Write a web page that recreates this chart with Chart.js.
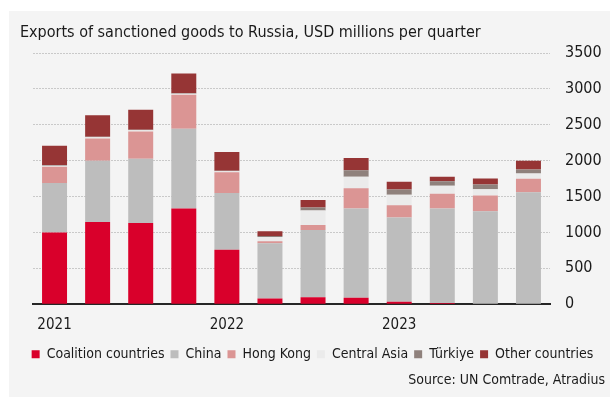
<!DOCTYPE html>
<html>
<head>
<meta charset="utf-8">
<script src="https://cdn.jsdelivr.net/npm/chart.js@4.4.1/dist/chart.umd.min.js"></script>
<style>
  body { margin: 0; background: #fff; }
  #panel { position: absolute; left: 9px; top: 11px; width: 601px; height: 386px; background: #f4f4f4; }
  #title { position: absolute; left: 11px; top: 11px; font: 16px "DejaVu Sans Condensed", sans-serif; color: #1a1a1a; white-space: nowrap; }
  #chart { position: absolute; left: 0; top: 0; }
</style>
</head>
<body>
<div id="panel">
  <canvas id="chart" width="601" height="386"></canvas>
  <div id="title">Exports of sanctioned goods to Russia, USD millions per quarter</div>
</div>
<script>
// quarterly exports, USD millions
const quarters = ['2021 Q1', '2021 Q2', '2021 Q3', '2021 Q4',
                  '2022 Q1', '2022 Q2', '2022 Q3', '2022 Q4',
                  '2023 Q1', '2023 Q2', '2023 Q3', '2023 Q4'];
const coalition   = [1000, 1145, 1130, 1335, 760, 78, 98, 90, 33, 15, 5, 0];
const china       = [690, 855, 897, 1110, 790, 772, 937, 1245, 1175, 1320, 1290, 1560];
const hongKong    = [225, 310, 380, 475, 290, 28, 70, 280, 172, 205, 220, 187];
const centralAsia = [15, 15, 15, 12, 12, 59, 199, 160, 145, 112, 88, 74];
const turkiye     = [8, 7, 7, 8, 8, 14, 42, 93, 74, 60, 65, 56];
const other       = [270, 300, 280, 275, 260, 66, 107, 170, 108, 65, 84, 121];
const yTicks      = [0, 500, 1000, 1500, 2000, 2500, 3000, 3500];

const FONT = '"DejaVu Sans Condensed", sans-serif';

function series(label, data, color) {
  return { label, data, backgroundColor: color, borderWidth: 0, yAxisID: 'y' };
}

new Chart(document.getElementById('chart'), {
  type: 'bar',
  data: {
    labels: quarters,
    datasets: [
      series('Coalition countries', coalition, '#d9002b'),
      series('China', china, '#bdbdbd'),
      series('Hong Kong', hongKong, '#db9594'),
      series('Central Asia', centralAsia, '#ebebeb'),
      series('Türkiye', turkiye, '#8f817c'),
      series('Other countries', other, '#963535')
    ]
  },
  options: {
    responsive: false,
    animation: false,
    categoryPercentage: 1,
    barPercentage: 0.58,
    layout: { padding: { left: 11, right: 5, top: 42, bottom: 8 } },
    plugins: {
      legend: {
        position: 'bottom',
        labels: { font: { family: FONT, size: 14 }, color: '#1a1a1a', boxWidth: 8, boxHeight: 8, padding: 6 }
      },
      subtitle: {
        display: true,
        position: 'bottom',
        align: 'end',
        text: 'Source: UN Comtrade, Atradius',
        color: '#1a1a1a',
        font: { family: FONT, size: 14 },
        padding: { top: 1, bottom: 0 }
      },
      tooltip: { enabled: false }
    },
    scales: {
      x: {
        stacked: true,
        grid: { display: false },
        border: { color: '#262626', width: 2 },
        afterFit: scale => { scale.height = 37; },
        ticks: {
          autoSkip: false,
          maxRotation: 0,
          padding: 4,
          color: '#1a1a1a',
          font: { family: FONT, size: 15 },
          callback: (v, i) => quarters[i].endsWith('Q1') ? quarters[i].slice(0, 4) : ''
        }
      },
      y: {
        stacked: true,
        position: 'right',
        min: 0,
        max: 3500,
        afterBuildTicks: scale => { scale.ticks = yTicks.map(value => ({ value })); },
        afterFit: scale => { scale.width = 55; },
        border: { display: false, dash: [2, 1] },
        grid: { color: '#c9c9c9', drawTicks: false, lineWidth: 1 },
        ticks: { padding: 15, color: '#1a1a1a', font: { family: FONT, size: 16 }, callback: v => String(v) }
      },
      // empty left gutter so the plot starts right of the legend's edge
      gutter: {
        position: 'left',
        display: true,
        grid: { display: false },
        border: { display: false },
        ticks: { display: false },
        afterFit: scale => { scale.width = 13; }
      }
    }
  }
});
</script>
</body>
</html>
